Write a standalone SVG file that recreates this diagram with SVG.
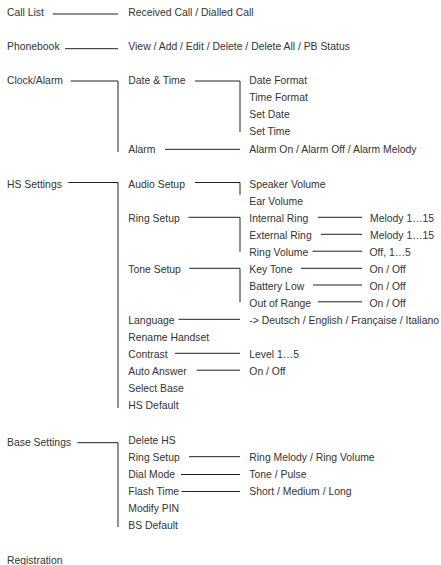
<svg xmlns="http://www.w3.org/2000/svg" width="441" height="565" viewBox="0 0 441 565">
<style>
text{font-family:"Liberation Sans",Arial,sans-serif;font-size:10.4px;fill:#333}
.c path{fill:none;stroke:#222;stroke-width:1}
</style>
<rect width="441" height="565" fill="#fff"/>
<g class="c" id="connectors">
<path d="M52.7 14H118"/>
<path d="M65 48.7H118"/>
<path d="M70.7 81H118V152"/>
<path d="M195 81H240V132"/>
<path d="M165 149.3H240"/>
<path d="M68.3 182.5H118V408"/>
<path d="M195 182.5H240V195"/>
<path d="M188.3 217.3H240V251.7"/>
<path d="M317.7 217.3H362"/>
<path d="M320.7 234.3H362"/>
<path d="M312.5 251.2H362"/>
<path d="M301 268.3H362"/>
<path d="M189.3 268.3H240V302.3"/>
<path d="M313 285H362"/>
<path d="M317.7 301.8H362"/>
<path d="M178.5 319.3H240"/>
<path d="M175 353.3H240"/>
<path d="M196.7 370.2H240"/>
<path d="M77.3 442.7H118V527"/>
<path d="M189 456.7H240"/>
<path d="M181 474.5H240"/>
<path d="M181.5 491.5H240"/>
</g>
<g id="n-calllist"><text x="7" y="16">Call List</text></g>
<g id="n-calllist-sub"><text x="128.3" y="16">Received Call / Dialled Call</text></g>
<g id="n-phonebook"><text x="7" y="49.5">Phonebook</text></g>
<g id="n-phonebook-sub"><text x="128.3" y="49.5">View / Add / Edit / Delete / Delete All / PB Status</text></g>
<g id="n-clock"><text x="7" y="84.3">Clock/Alarm</text></g>
<g id="n-datetime"><text x="128.3" y="84.3">Date &amp; Time</text></g>
<g id="n-datetime-sub"><text x="249.3" y="84.3">Date Format</text><text x="249.3" y="101.3">Time Format</text><text x="249.3" y="118.3">Set Date</text><text x="249.3" y="135.3">Set Time</text></g>
<g id="n-alarm"><text x="128.3" y="153">Alarm</text></g>
<g id="n-alarm-sub"><text x="249.3" y="153">Alarm On / Alarm Off / Alarm Melody</text></g>
<g id="n-hs"><text x="7" y="187.5">HS Settings</text></g>
<g id="n-audio"><text x="128.3" y="187.5">Audio Setup</text></g>
<g id="n-audio-sub"><text x="249.3" y="187.5">Speaker Volume</text><text x="249.3" y="204.5">Ear Volume</text></g>
<g id="n-ring"><text x="128.3" y="221.5">Ring Setup</text></g>
<g id="n-intring"><text x="249.3" y="221.5">Internal Ring</text></g>
<g id="n-intring-sub"><text x="370" y="221.5">Melody 1…15</text></g>
<g id="n-extring"><text x="249.3" y="238.5">External Ring</text></g>
<g id="n-extring-sub"><text x="370" y="238.5">Melody 1…15</text></g>
<g id="n-ringvol"><text x="249.3" y="255.5">Ring Volume</text></g>
<g id="n-ringvol-sub"><text x="369.5" y="255.5">Off, 1…5</text></g>
<g id="n-tone"><text x="128.3" y="272.5">Tone Setup</text></g>
<g id="n-keytone"><text x="249.3" y="272.5">Key Tone</text></g>
<g id="n-keytone-sub"><text x="369.5" y="272.5">On / Off</text></g>
<g id="n-battery"><text x="249.3" y="289.5">Battery Low</text></g>
<g id="n-battery-sub"><text x="369.5" y="289.5">On / Off</text></g>
<g id="n-range"><text x="249.3" y="306.5">Out of Range</text></g>
<g id="n-range-sub"><text x="369.5" y="306.5">On / Off</text></g>
<g id="n-language"><text x="128.3" y="323.5">Language</text></g>
<g id="n-language-sub"><text x="249.3" y="323.5">-&gt; Deutsch / English / Française / Italiano</text></g>
<g id="n-rename"><text x="128.3" y="340.5">Rename Handset</text></g>
<g id="n-contrast"><text x="128.3" y="357.5">Contrast</text></g>
<g id="n-contrast-sub"><text x="249.3" y="357.5">Level 1…5</text></g>
<g id="n-autoanswer"><text x="128.3" y="374.5">Auto Answer</text></g>
<g id="n-autoanswer-sub"><text x="249.3" y="374.5">On / Off</text></g>
<g id="n-selectbase"><text x="128.3" y="391.5">Select Base</text></g>
<g id="n-hsdefault"><text x="128.3" y="408.5">HS Default</text></g>
<g id="n-base"><text x="7" y="445.5">Base Settings</text></g>
<g id="n-deletehs"><text x="128.3" y="443.5">Delete HS</text></g>
<g id="n-bring"><text x="128.3" y="460.5">Ring Setup</text></g>
<g id="n-bring-sub"><text x="249.3" y="460.5">Ring Melody / Ring Volume</text></g>
<g id="n-dial"><text x="128.3" y="477.7">Dial Mode</text></g>
<g id="n-dial-sub"><text x="249.3" y="477.7">Tone / Pulse</text></g>
<g id="n-flash"><text x="128.3" y="494.9">Flash Time</text></g>
<g id="n-flash-sub"><text x="249.3" y="494.9">Short / Medium / Long</text></g>
<g id="n-pin"><text x="128.3" y="512.1">Modify PIN</text></g>
<g id="n-bsdefault"><text x="128.3" y="529.3">BS Default</text></g>
<g id="n-registration"><text x="7" y="563.5">Registration</text></g>
</svg>
